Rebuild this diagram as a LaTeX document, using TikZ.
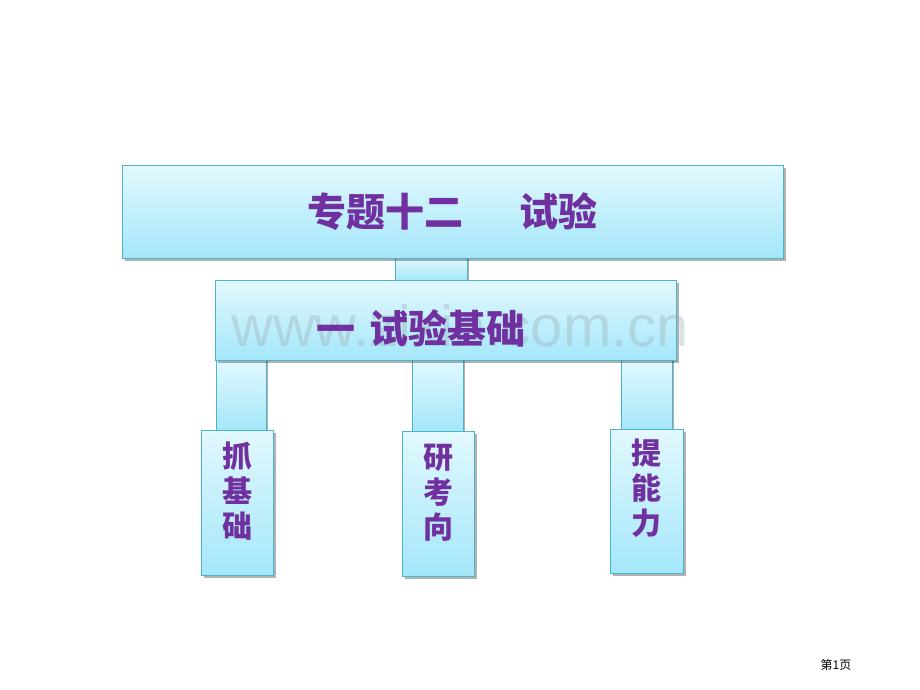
\documentclass[tikz,border=0pt]{standalone}
\usepackage{fontspec}
\newfontfamily\cjk{Noto Sans CJK SC}
\setsansfont{Liberation Sans}
\usetikzlibrary{shadows,calc}
\definecolor{txtpurple}{HTML}{7030A0}
\definecolor{boxtop}{HTML}{E2F8FE}
\definecolor{boxbot}{HTML}{A4E7FA}
\definecolor{boxline}{HTML}{4DB3C9}
\definecolor{wmark}{HTML}{9AAAB0}
\tikzset{
  boxbase/.style={draw=boxline, line width=1pt, top color=boxtop, bottom color=boxbot,
    drop shadow={shadow xshift=2.5pt, shadow yshift=-2.5pt, fill=black, opacity=0.3}},
  bigbox/.style={boxbase, inner sep=0pt},
  smallbox/.style={boxbase, inner sep=0pt, minimum width=72pt, minimum height=145pt},
  conn/.style={draw=boxline, line width=1pt, top color=boxtop, bottom color=boxbot,
    drop shadow={shadow xshift=2pt, shadow yshift=0pt, fill=black, opacity=0.3}},
  bigtext/.style={text=txtpurple, font=\cjk\bfseries\fontsize{39}{39}\selectfont, inner sep=0pt},
  vtext/.style={text=txtpurple, font=\cjk\bfseries\fontsize{30}{35}\selectfont, align=center, inner sep=0pt},
}
\begin{document}
\begin{tikzpicture}[x=1pt,y=-1pt]
\useasboundingbox (0,0) rectangle (920,690);
% connectors first
\coordinate (c0a) at (395,258);
\coordinate (c0b) at (467,280);
\draw[conn] (c0a) rectangle (c0b);
\coordinate (c1a) at (216,360);
\coordinate (c1b) at (266,430);
\draw[conn] (c1a) rectangle (c1b);
\coordinate (c2a) at (412,360);
\coordinate (c2b) at (463,431);
\draw[conn] (c2a) rectangle (c2b);
\coordinate (c3a) at (621,360);
\coordinate (c3b) at (672,429);
\draw[conn] (c3a) rectangle (c3b);
% boxes
\node[bigbox, minimum width=661pt, minimum height=93pt] (top) at (452.5,211.5) {};
\node[bigbox, minimum width=461pt, minimum height=80pt] (sec) at (445.5,320) {};
\node[smallbox] (b1) at (237,502.5) {};
\node[smallbox] (b2) at (438,503.5) {};
\node[smallbox, minimum width=73pt, minimum height=144pt] (b3) at (646.5,501) {};
% watermark
\node[text=wmark, opacity=0.35, font=\sffamily\fontsize{58}{58}\selectfont, inner sep=0pt] (wm) at (460,326) {www.zixin.com.cn};
% texts
\node[bigtext] (t1) at (top.center) {专题十二\hspace{57pt}试验};
\node[bigtext, anchor=west] (t2) at (316,328) {一\hspace{14pt}试验基础};
\node[vtext, anchor=north] (v1) at (237,442) {抓\\基\\础};
\node[vtext, anchor=north] (v2) at (438,444) {研\\考\\向};
\node[vtext, anchor=north] (v3) at (646,439) {提\\能\\力};
\node[font=\cjk\fontsize{12}{12}\selectfont, inner sep=0pt] (pg) at (836,665) {第1页};
\end{tikzpicture}
\end{document}
